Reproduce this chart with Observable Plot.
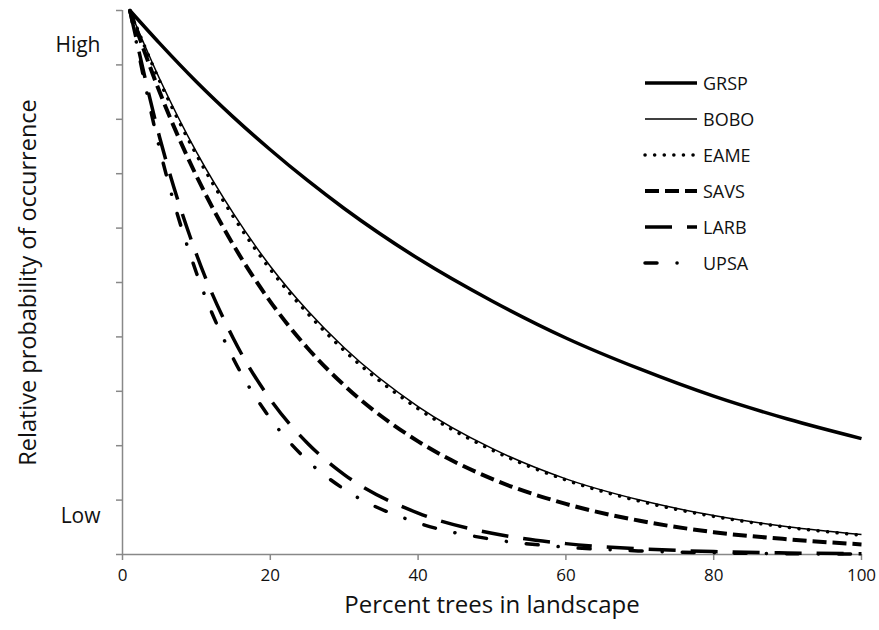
<!DOCTYPE html>
<html>
<head>
<meta charset="utf-8">
<script src="https://cdn.jsdelivr.net/npm/d3@7"></script>
<script src="https://cdn.jsdelivr.net/npm/@observablehq/plot@0.6"></script>
<style>
  html, body { margin: 0; padding: 0; background: #fff; }
  #wrap { position: relative; width: 879px; height: 630px; font-family: "Open Sans", sans-serif; }
  #legend { position: absolute; left: 643px; top: 65px; }
  .item { display: flex; align-items: center; height: 36px; }
  .item span { font-size: 18px; margin-left: 4px; color: #111; }
</style>
</head>
<body>
<div id="wrap"><div id="legend"></div></div>
<script>
// Percent trees in landscape (x) at which values are read
const xs = [1, 5, 10, 15, 20, 25, 30, 40, 50, 60, 70, 80, 90, 100];
// Relative probability of occurrence per species (0 = bottom, 1 = top)
const GRSP = [1.0, 0.940, 0.869, 0.804, 0.744, 0.688, 0.636, 0.544, 0.466, 0.398, 0.341, 0.291, 0.249, 0.213];
const BOBO = [1.0, 0.875, 0.740, 0.627, 0.530, 0.449, 0.380, 0.272, 0.195, 0.139, 0.100, 0.0715, 0.0512, 0.0367];
const EAME = [1.0, 0.871, 0.735, 0.621, 0.524, 0.444, 0.375, 0.268, 0.192, 0.137, 0.098, 0.070, 0.050, 0.0355];
const SAVS = [1.0, 0.851, 0.696, 0.569, 0.465, 0.380, 0.311, 0.208, 0.139, 0.093, 0.062, 0.041, 0.028, 0.0185];
const LARB = [1.0, 0.768, 0.552, 0.397, 0.285, 0.205, 0.147, 0.076, 0.039, 0.020, 0.0105, 0.0054, 0.0028, 0.0015];
const UPSA = [1.0, 0.747, 0.518, 0.360, 0.250, 0.173, 0.120, 0.058, 0.028, 0.0135, 0.0065, 0.0031, 0.0015, 0.0007];

const speciesNames = ["GRSP", "BOBO", "EAME", "SAVS", "LARB", "UPSA"];
const speciesValues = [GRSP, BOBO, EAME, SAVS, LARB, UPSA];

const xTicks = [0, 20, 40, 60, 80, 100];
const yTicks = [0, 0.1, 0.2, 0.3, 0.4, 0.5, 0.6, 0.7, 0.8, 0.9, 1.0];
const levelLabels = ["High", "Low"];
const levelValues = [0.936, 0.07];
const xTitle = "Percent trees in landscape";
const yTitle = "Relative probability of occurrence";

const styles = {
  GRSP: {strokeWidth: 3.5, strokeDasharray: null, strokeLinecap: "butt"},
  BOBO: {strokeWidth: 1.5, strokeDasharray: null, strokeLinecap: "butt"},
  EAME: {strokeWidth: 3.5, strokeDasharray: "0.1 9.5", strokeLinecap: "round"},
  SAVS: {strokeWidth: 4, strokeDasharray: "14 6", strokeLinecap: "butt"},
  LARB: {strokeWidth: 3.5, strokeDasharray: "27 15", strokeLinecap: "butt"},
  UPSA: {strokeWidth: 3.5, strokeDasharray: "12 20 0.1 20", strokeLinecap: "round"}
};

const lineMarks = speciesNames.map((name, i) => {
  const data = xs.map((x, j) => ({x, y: speciesValues[i][j]}));
  const s = styles[name];
  const opts = {x: "x", y: "y", stroke: "#000", strokeWidth: s.strokeWidth, curve: "monotone-x", strokeLinecap: s.strokeLinecap};
  if (s.strokeDasharray) opts.strokeDasharray = s.strokeDasharray;
  return Plot.line(data, opts);
});

const levels = levelLabels.map((t, i) => ({t, v: levelValues[i]}));

const chart = Plot.plot({
  width: 879,
  height: 630,
  marginLeft: 122,
  marginRight: 18,
  marginTop: 10,
  marginBottom: 76,
  style: {fontFamily: "Open Sans, sans-serif", background: "#fff", color: "#111"},
  x: {domain: [0, 100]},
  y: {domain: [0, 1]},
  marks: [
    Plot.axisX({ticks: xTicks, tickSize: 6, tickPadding: 8, fontSize: 17, stroke: "#888", strokeWidth: 1.5, label: null}),
    Plot.axisY({ticks: yTicks, tickSize: 6, tickFormat: () => "", stroke: "#888", strokeWidth: 1.5, label: null}),
    Plot.ruleX([0], {stroke: "#888", strokeWidth: 1.5}),
    Plot.ruleY([0], {stroke: "#888", strokeWidth: 1.5}),
    Plot.text(levels, {x: 0, y: "v", text: "t", textAnchor: "end", dx: -22, fontSize: 21, fill: "#111"}),
    Plot.text([xTitle], {frameAnchor: "bottom", textAnchor: "middle", lineAnchor: "middle", dy: 51, fontSize: 24, fill: "#111"}),
    Plot.text([yTitle], {frameAnchor: "left", textAnchor: "middle", lineAnchor: "middle", dx: -94, rotate: -90, fontSize: 23.5, fill: "#111"}),
    ...lineMarks
  ]
});

document.getElementById("wrap").prepend(chart);

// legend
const legend = document.getElementById("legend");
speciesNames.forEach(name => {
  const s = styles[name];
  const item = document.createElement("div");
  item.className = "item";
  const ns = "http://www.w3.org/2000/svg";
  const svg = document.createElementNS(ns, "svg");
  svg.setAttribute("width", 56);
  svg.setAttribute("height", 10);
  const ln = document.createElementNS(ns, "line");
  ln.setAttribute("x1", 2); ln.setAttribute("x2", 54);
  ln.setAttribute("y1", 5); ln.setAttribute("y2", 5);
  ln.setAttribute("stroke", "#000");
  ln.setAttribute("stroke-width", s.strokeWidth);
  ln.setAttribute("stroke-linecap", s.strokeLinecap);
  if (s.strokeDasharray) ln.setAttribute("stroke-dasharray", s.strokeDasharray);
  svg.appendChild(ln);
  item.appendChild(svg);
  const sp = document.createElement("span");
  sp.textContent = name;
  item.appendChild(sp);
  legend.appendChild(item);
});
</script>
</body>
</html>
